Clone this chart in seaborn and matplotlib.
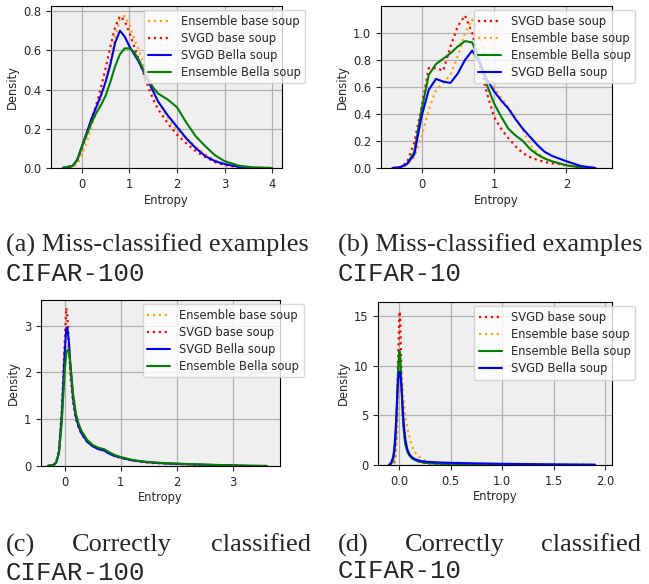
import matplotlib
matplotlib.use("Agg")
import matplotlib.pyplot as plt
import seaborn as sns
import pandas as pd

# ---- data (entropy grid -> density) ----
# (a) miss-classified, CIFAR-100
x_a = [-0.4, -0.2, -0.1, 0.0, 0.1, 0.2, 0.3, 0.4, 0.5, 0.6, 0.7, 0.8, 0.9, 1.0, 1.1,
       1.2, 1.3, 1.4, 1.5, 1.6, 1.8, 2.0, 2.2, 2.4, 2.6, 2.8, 3.0, 3.3, 3.6, 4.0]
ens_base_a = [0.0, 0.005, 0.02, 0.07, 0.13, 0.21, 0.28, 0.36, 0.45, 0.55, 0.67, 0.76, 0.775, 0.73, 0.66,
              0.6, 0.53, 0.46, 0.4, 0.34, 0.26, 0.19, 0.15, 0.11, 0.07, 0.04, 0.02, 0.006, 0.001, 0.0]
svgd_base_a = [0.0, 0.01, 0.04, 0.1, 0.17, 0.25, 0.32, 0.41, 0.51, 0.62, 0.72, 0.775, 0.75, 0.69, 0.62,
               0.55, 0.48, 0.41, 0.35, 0.3, 0.23, 0.17, 0.125, 0.085, 0.055, 0.03, 0.015, 0.004, 0.0, 0.0]
svgd_bella_a = [0.0, 0.01, 0.04, 0.11, 0.18, 0.25, 0.31, 0.37, 0.44, 0.53, 0.64, 0.70, 0.67, 0.62, 0.58,
                0.54, 0.49, 0.44, 0.39, 0.34, 0.27, 0.21, 0.15, 0.1, 0.06, 0.035, 0.02, 0.006, 0.001, 0.0]
ens_bella_a = [0.002, 0.01, 0.04, 0.11, 0.17, 0.23, 0.28, 0.32, 0.37, 0.44, 0.52, 0.58, 0.61, 0.61, 0.59,
               0.55, 0.5, 0.45, 0.41, 0.38, 0.35, 0.31, 0.23, 0.16, 0.11, 0.065, 0.035, 0.012, 0.003, 0.0]

# (b) miss-classified, CIFAR-10
x_b = [-0.4, -0.3, -0.2, -0.1, 0.0, 0.1, 0.2, 0.3, 0.4, 0.5, 0.6, 0.7, 0.8, 0.9,
       1.0, 1.1, 1.2, 1.3, 1.4, 1.5, 1.6, 1.7, 1.8, 1.9, 2.0, 2.2, 2.4]
svgd_base_b = [0.0, 0.005, 0.04, 0.19, 0.45, 0.74, 0.74, 0.72, 0.9, 1.05, 1.13, 1.0, 0.77, 0.56,
               0.38, 0.29, 0.22, 0.16, 0.11, 0.08, 0.06, 0.045, 0.035, 0.03, 0.02, 0.005, 0.0]
ens_base_b = [0.0, 0.002, 0.02, 0.08, 0.23, 0.43, 0.58, 0.63, 0.69, 0.83, 1.0, 1.1, 1.0, 0.8,
              0.6, 0.52, 0.45, 0.37, 0.28, 0.17, 0.11, 0.075, 0.05, 0.035, 0.02, 0.005, 0.0]
ens_bella_b = [0.0, 0.004, 0.03, 0.12, 0.43, 0.69, 0.77, 0.81, 0.85, 0.9, 0.94, 0.93, 0.8, 0.62,
               0.48, 0.38, 0.29, 0.24, 0.2, 0.14, 0.1, 0.07, 0.05, 0.035, 0.02, 0.004, 0.0]
svgd_bella_b = [0.0, 0.005, 0.03, 0.1, 0.38, 0.58, 0.66, 0.64, 0.63, 0.7, 0.8, 0.87, 0.78, 0.66,
                0.57, 0.5, 0.44, 0.36, 0.29, 0.23, 0.17, 0.12, 0.09, 0.07, 0.05, 0.015, 0.0]

# (c) correctly classified, CIFAR-100
x_c = [-0.3, -0.2, -0.15, -0.1, -0.05, 0.0, 0.03, 0.05, 0.08, 0.1, 0.15, 0.2, 0.25, 0.3, 0.4,
       0.5, 0.6, 0.7, 0.8, 0.9, 1.0, 1.2, 1.4, 1.6, 1.8, 2.0, 2.5, 3.0, 3.3, 3.6]
ens_base_c = [0.0, 0.02, 0.07, 0.28, 1.0, 2.1, 2.55, 2.6, 2.45, 2.15, 1.5, 1.1, 0.88, 0.73, 0.54,
              0.44, 0.38, 0.35, 0.28, 0.22, 0.18, 0.125, 0.09, 0.07, 0.055, 0.045, 0.025, 0.012, 0.006, 0.003]
svgd_base_c = [0.0, 0.02, 0.08, 0.35, 1.2, 2.6, 3.38, 3.2, 2.5, 2.0, 1.35, 1.0, 0.82, 0.68, 0.52,
               0.42, 0.37, 0.33, 0.26, 0.21, 0.17, 0.12, 0.08, 0.06, 0.05, 0.04, 0.02, 0.01, 0.002, 0.0]
svgd_bella_c = [0.0, 0.02, 0.07, 0.3, 1.1, 2.4, 2.95, 2.95, 2.6, 2.2, 1.45, 1.05, 0.84, 0.7, 0.52,
                0.42, 0.36, 0.33, 0.26, 0.21, 0.18, 0.12, 0.09, 0.07, 0.055, 0.045, 0.025, 0.01, 0.002, 0.0]
ens_bella_c = [0.0, 0.02, 0.07, 0.28, 0.95, 2.0, 2.4, 2.48, 2.45, 2.2, 1.55, 1.12, 0.9, 0.75, 0.56,
               0.45, 0.39, 0.36, 0.29, 0.23, 0.19, 0.13, 0.095, 0.075, 0.06, 0.05, 0.03, 0.012, 0.003, 0.0]

# (d) correctly classified, CIFAR-10
x_d = [-0.1, -0.08, -0.06, -0.05, -0.04, -0.03, -0.02, -0.01, 0.0, 0.005, 0.01, 0.02, 0.03, 0.04, 0.05,
       0.06, 0.08, 0.1, 0.12, 0.15, 0.2, 0.25, 0.3, 0.4, 0.5, 0.7, 1.0, 1.5, 1.9]
svgd_base_d = [0.0, 0.0, 0.05, 0.2, 0.8, 2.3, 6.0, 11.5, 15.0, 15.5, 14.5, 9.5, 6.0, 4.0, 2.9,
               2.2, 1.4, 1.0, 0.75, 0.5, 0.3, 0.2, 0.15, 0.1, 0.08, 0.05, 0.03, 0.01, 0.0]
ens_base_d = [0.0, 0.02, 0.15, 0.4, 0.9, 1.8, 3.5, 6.0, 8.5, 9.3, 9.6, 9.2, 8.2, 7.0, 5.8,
              4.8, 3.6, 2.8, 2.0, 1.3, 0.75, 0.45, 0.3, 0.18, 0.12, 0.07, 0.04, 0.015, 0.005]
ens_bella_d = [0.0, 0.1, 0.5, 1.1, 2.2, 4.0, 7.0, 10.0, 11.5, 11.4, 10.8, 8.3, 5.8, 3.9, 2.8,
               2.0, 1.3, 0.95, 0.7, 0.5, 0.32, 0.22, 0.17, 0.12, 0.09, 0.06, 0.04, 0.02, 0.005]
svgd_bella_d = [0.02, 0.2, 0.8, 1.5, 2.8, 4.5, 7.0, 8.8, 9.4, 9.4, 9.2, 8.0, 6.3, 4.6, 3.4,
                2.5, 1.5, 1.05, 0.8, 0.6, 0.42, 0.34, 0.3, 0.25, 0.22, 0.17, 0.12, 0.06, 0.03]

xticks_a = [0, 1, 2, 3, 4]
yticks_a = [0.0, 0.2, 0.4, 0.6, 0.8]
xticks_b = [0, 1, 2]
yticks_b = [0.0, 0.2, 0.4, 0.6, 0.8, 1.0]
xticks_c = [0, 1, 2, 3]
yticks_c = [0, 1, 2, 3]
xticks_d = [0.0, 0.5, 1.0, 1.5, 2.0]
yticks_d = [0, 5, 10, 15]

styles = {
    "Ensemble base soup": ("orange", ":", 1.6),
    "SVGD base soup": ("red", ":", 1.6),
    "SVGD Bella soup": ("blue", "-", 1.5),
    "Ensemble Bella soup": ("green", "-", 1.5),
}

sns.set_style("ticks")
plt.rcParams["font.family"] = ["DejaVu Sans"]
plt.rcParams["font.size"] = 8.3

fig = plt.figure(figsize=(6.49, 5.84), dpi=100)

panels = [
    ([0.0786, 0.7123, 0.356, 0.2774], x_a,
     [("Ensemble base soup", ens_base_a), ("SVGD base soup", svgd_base_a),
      ("SVGD Bella soup", svgd_bella_a), ("Ensemble Bella soup", ens_bella_a)],
     (-0.65, 4.21), (0, 0.826), xticks_a, yticks_a, ["0.0", "0.2", "0.4", "0.6", "0.8"], ["0", "1", "2", "3", "4"]),
    ([0.587, 0.7123, 0.356, 0.2774], x_b,
     [("SVGD base soup", svgd_base_b), ("Ensemble base soup", ens_base_b),
      ("Ensemble Bella soup", ens_bella_b), ("SVGD Bella soup", svgd_bella_b)],
     (-0.56, 2.63), (0, 1.20), xticks_b, yticks_b, ["0.0", "0.2", "0.4", "0.6", "0.8", "1.0"], ["0", "1", "2"]),
    ([0.0632, 0.2021, 0.368, 0.2842], x_c,
     [("Ensemble base soup", ens_base_c), ("SVGD base soup", svgd_base_c),
      ("SVGD Bella soup", svgd_bella_c), ("Ensemble Bella soup", ens_bella_c)],
     (-0.42, 3.83), (0, 3.55), xticks_c, yticks_c, ["0", "1", "2", "3"], ["0", "1", "2", "3"]),
    ([0.5824, 0.2038, 0.3606, 0.279], x_d,
     [("SVGD base soup", svgd_base_d), ("Ensemble base soup", ens_base_d),
      ("Ensemble Bella soup", ens_bella_d), ("SVGD Bella soup", svgd_bella_d)],
     (-0.207, 2.065), (0, 16.45), xticks_d, yticks_d, ["0", "5", "10", "15"], ["0.0", "0.5", "1.0", "1.5", "2.0"]),
]

for rect, xs, series, xlim, ylim, xt, yt, ylabels, xlabels in panels:
    ax = fig.add_axes(rect)
    ax.set_facecolor("#efefef")
    for name, ys in series:
        color, ls, lw = styles[name]
        df = pd.DataFrame({"Entropy": xs, "Density": ys})
        sns.lineplot(data=df, x="Entropy", y="Density", ax=ax, color=color,
                     linestyle=ls, linewidth=lw, label=name)
    ax.set_xlim(*xlim)
    ax.set_ylim(*ylim)
    ax.set_xticks(xt)
    ax.set_xticklabels(xlabels)
    ax.set_yticks(yt)
    ax.set_yticklabels(ylabels)
    ax.grid(True, color="#b0b0b0", linewidth=0.9)
    ax.set_axisbelow(True)
    for sp in ax.spines.values():
        sp.set_visible(True)
        sp.set_color("black")
        sp.set_linewidth(0.8)
    ax.tick_params(labelsize=8.3, length=3.5, width=0.8, direction="out")
    ax.set_xlabel("Entropy", fontsize=8.3, labelpad=2)
    ax.set_ylabel("Density", fontsize=8.3, labelpad=3)
    ax.legend(loc="upper right", bbox_to_anchor=(1.125, 1.01), fontsize=8.3,
              framealpha=0.8, edgecolor="0.8", fancybox=True, labelspacing=0.35)

serif = "Liberation Serif"
mono = "Liberation Mono"
W, H = 649.0, 584.0

def put(x, y, s, family, size, ha="left"):
    fig.text(x / W, 1 - y / H, s, family=family, fontsize=size, ha=ha, va="center")

put(6, 245, "(a) Miss-classified examples", serif, 19)
put(6, 274, "CIFAR-100", mono, 18.5)
put(338, 245, "(b) Miss-classified examples", serif, 19)
put(338, 274, "CIFAR-10", mono, 18.5)

put(6, 545, "(c)", serif, 19)
put(122, 545, "Correctly", serif, 19, ha="center")
put(311, 545, "classified", serif, 19, ha="right")
put(6, 573, "CIFAR-100", mono, 18.5)
put(338, 545, "(d)", serif, 19)
put(455, 545, "Correctly", serif, 19, ha="center")
put(641, 545, "classified", serif, 19, ha="right")
put(338, 571, "CIFAR-10", mono, 18.5)

fig.savefig("out.png", dpi=100)
